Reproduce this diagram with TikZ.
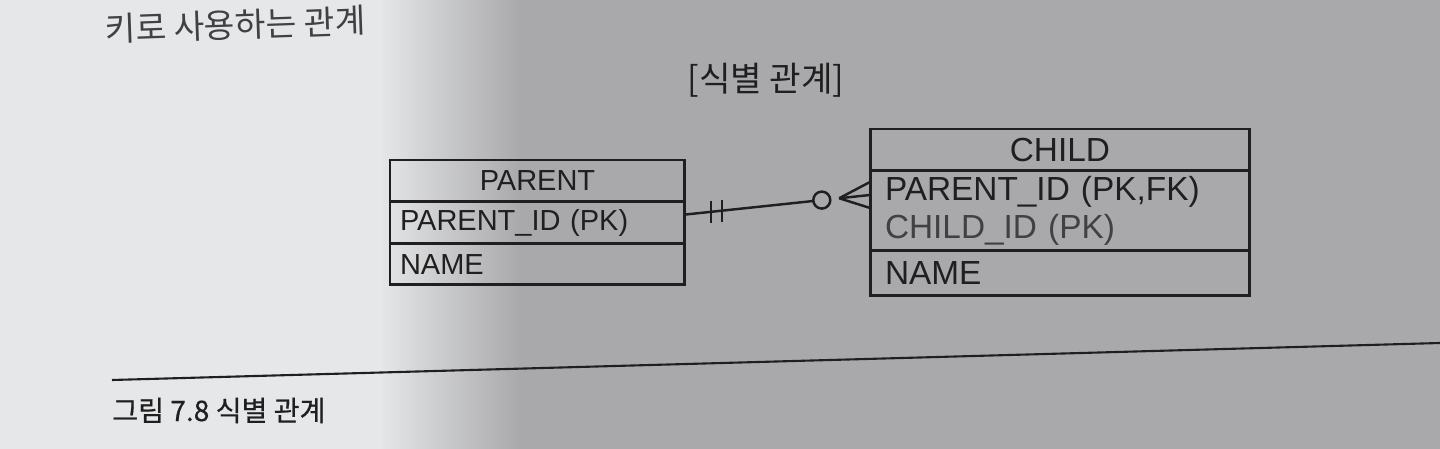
\documentclass[tikz,border=0pt]{standalone}
\usepackage{fontspec}
\setmainfont{Liberation Sans}
\newfontfamily\kfont{Noto Sans CJK KR}
\newfontfamily\kfontmed[FakeBold=0.6]{Noto Sans CJK KR}
\usetikzlibrary{positioning,calc}
\definecolor{ink}{HTML}{1F1F1F}
\definecolor{paper}{HTML}{E6E7E9}
\definecolor{shadow}{HTML}{A9A9AB}
\tikzset{
  ent/.style={draw=ink, line width=1.7pt, rectangle, outer sep=0pt, inner ysep=0pt, text=ink},
  parentent/.style={ent, text width=5.5cm, inner xsep=0.2cm, font=\fontsize{16.5}{19}\selectfont},
  childent/.style={ent, text width=7cm, inner xsep=0.3cm, font=\fontsize{19}{21.5}\selectfont},
  rel/.style={draw=ink, line width=1.4pt},
}
\begin{document}
\begin{tikzpicture}[x=0.02cm,y=-0.02cm]
 \useasboundingbox (0,0) rectangle (1440,449);
 % page and shadow
 \fill[shadow] (0,0) rectangle (1440,449);
 \fill[paper] (0,0) rectangle (380,449);
 \shade[left color=paper, right color=shadow] (379,0) rectangle (520,449);
 % texts of the page
 \node[font=\kfont\fontsize{19}{22}\selectfont, text=ink!85, anchor=base west, inner sep=0pt, rotate=2] (lead) at (105,42) {키로 사용하는 관계};
 \node[font=\kfont\fontsize{19.5}{22}\selectfont, text=ink] (title) at (766,80) {[식별 관계]};
 \draw[ink, line width=1.2pt] (112,380) -- (1440,343);
 \node[font=\kfontmed\fontsize{16}{18}\selectfont, text=ink, anchor=base west, inner sep=0pt] (caption) at (112,421) {그림 7.8 식별 관계};
 % parent entity
 \node[parentent, align=center, minimum height=0.84cm, anchor=north west] (phead) at (390,160) {PARENT};
 \node[parentent, align=left, minimum height=0.84cm, below=0pt of phead] (ppk) {PARENT\_ID (PK)};
 \node[parentent, align=left, minimum height=0.82cm, below=0pt of ppk] (pattr) {NAME};
 % child entity
 \node[childent, align=center, minimum height=0.84cm, anchor=north west] (chead) at (870,129) {CHILD};
 \node[childent, align=left, minimum height=1.6cm, below=0pt of chead] (cpk) {PARENT\_ID (PK,FK)\\ \textcolor{ink!85}{CHILD\_ID (PK)}};
 \node[childent, align=left, minimum height=0.9cm, below=0pt of cpk] (cattr) {NAME};
 % identifying relation
 \coordinate (pout) at ($(ppk.north east)!0.3!(ppk.south east)$);
 \coordinate (cin) at ($(cpk.north west)!0.3!(cpk.south west)$);
 \draw[rel] (pout) -- ($(cin)!1.14cm!(pout)$);
 \draw[rel] ($(cin)!0.97cm!(pout)$) circle (0.17cm);
 \foreach \dy in {-13,0,13} {\draw[rel] ($(cin)!0.62cm!(pout)$) -- ($(cin)+(0,\dy)$);}
 \foreach \d in {0.52cm,0.74cm} {\draw[rel] ($(pout)!\d!(cin)+(0,-11)$) -- ($(pout)!\d!(cin)+(0,11)$);}
\end{tikzpicture}
\end{document}
